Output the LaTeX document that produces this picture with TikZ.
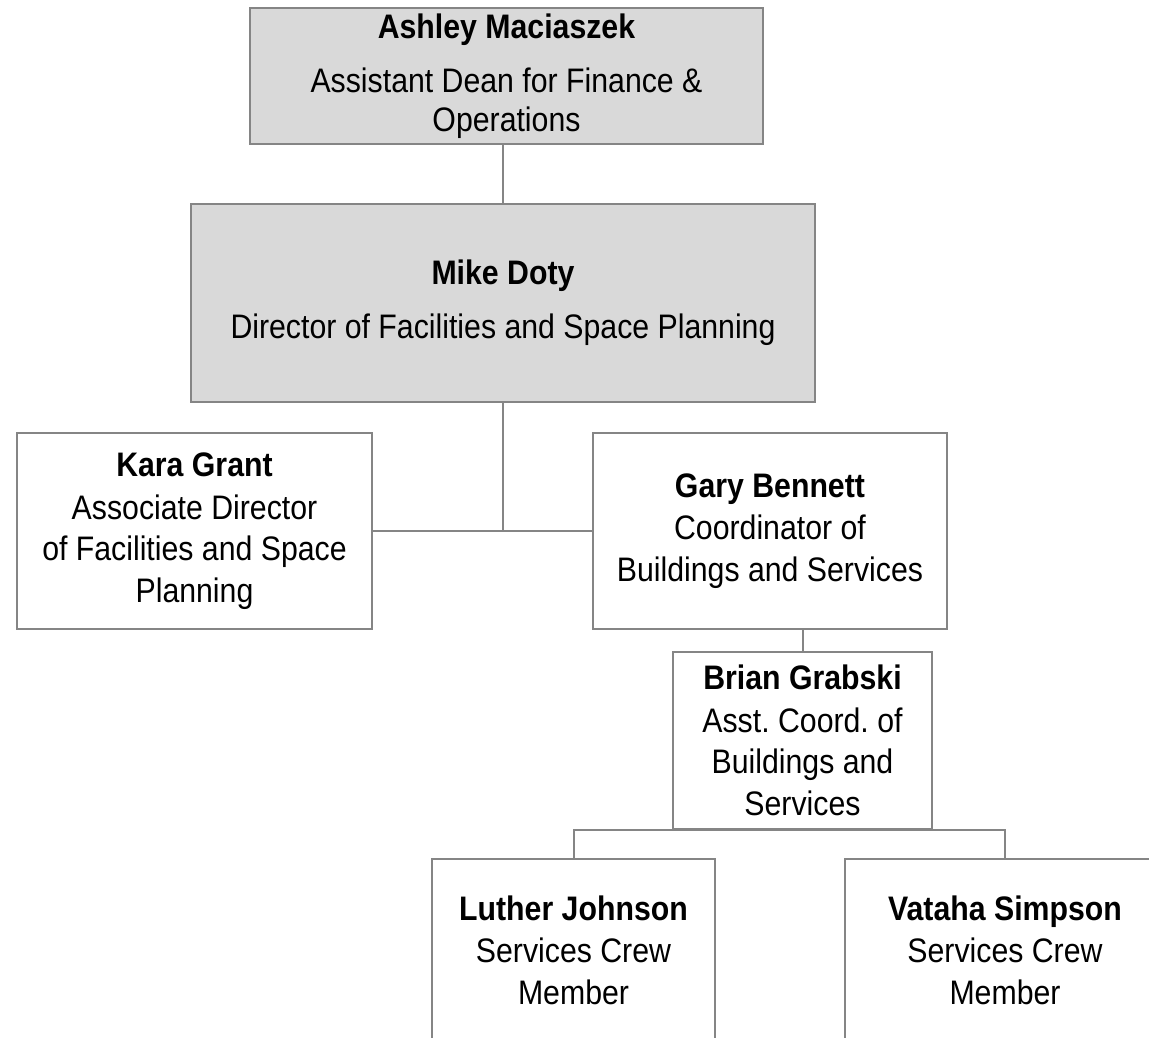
\documentclass[tikz,border=0pt]{standalone}
\usepackage{fontspec}
\setmainfont{Liberation Sans}[FakeStretch=0.89]
\usepackage{tikz}
\definecolor{boxgray}{HTML}{D9D9D9}
\definecolor{linegray}{HTML}{858585}
\frenchspacing

\begin{document}
\begin{tikzpicture}[x=0.4pt, y=-0.4pt,
    box/.style={draw=linegray, line width=0.8pt, align=center, inner sep=0pt,
      font=\fontsize{13.6pt}{16.6pt}\selectfont},
    head/.style={box, fill=boxgray},
    link/.style={draw=linegray, line width=0.8pt}]
    \useasboundingbox (0, 0) rectangle (1149, 1038);
    \node[head, minimum width=205.2pt, minimum height=54.4pt] (am) at (506.5, 76) {\textbf{Ashley Maciaszek}\\[5pt]Assistant Dean for Finance \&\\[-1.2pt]Operations};
    \node[head, minimum width=249.6pt, minimum height=79.2pt] (md) at (503, 303) {\textbf{Mike Doty}\\[5pt]Director of Facilities and Space Planning};
    \node[box, minimum width=142pt, minimum height=78.4pt] (kg) at (194.5, 531) {\textbf{Kara Grant}\\[0.4pt]Associate Director\\of Facilities and Space\\Planning};
    \node[box, minimum width=141.6pt, minimum height=78.4pt] (gb) at (770, 531) {\textbf{Gary Bennett}\\[0.4pt]Coordinator of\\Buildings and Services};
    \node[box, minimum width=103.6pt, minimum height=70.8pt] (bg) at (802.5, 740.5) {\textbf{Brian Grabski}\\[0.4pt]Asst. Coord. of\\Buildings and\\Services};
    \node[box, minimum width=113.2pt, minimum height=72.8pt] (lj) at (573.5, 950) {\textbf{Luther Johnson}\\[0.4pt]Services Crew\\Member};
    \node[box, minimum width=128pt, minimum height=72.8pt] (vs) at (1005, 950) {\textbf{Vataha Simpson}\\[0.4pt]Services Crew\\Member};
    \draw[link] (md.north) -- (md.north |- am.south);
    \draw[link] (md.south) -- (md.south |- kg.east);
    \draw[link] (kg.east) -- (gb.west);
    \draw[link] (gb.south -| bg.north) -- (bg.north);
    \draw[link] (lj.north) |- (bg.south) -| (vs.north);
\end{tikzpicture}
\end{document}
